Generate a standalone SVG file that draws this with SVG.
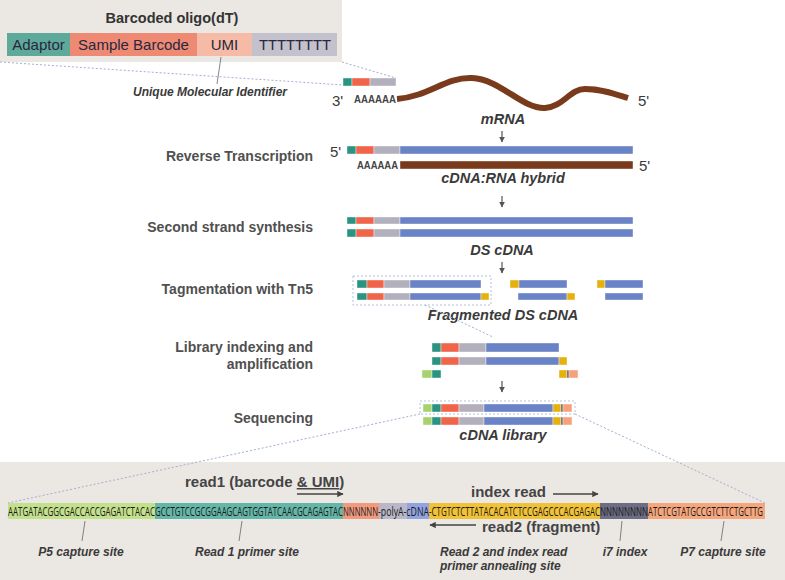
<svg xmlns="http://www.w3.org/2000/svg" width="785" height="580" viewBox="0 0 785 580">
<defs>
<style>
.step{font-family:"Liberation Sans",Arial,sans-serif;font-weight:bold;font-size:14px;fill:#505050;text-anchor:end}
.lab{font-family:"Liberation Sans",Arial,sans-serif;font-weight:bold;font-style:italic;font-size:14.5px;fill:#3a3a3a;text-anchor:middle}
.sm{font-family:"Liberation Sans",Arial,sans-serif;font-weight:bold;font-style:italic;font-size:12px;fill:#3a3a3a}
.pr{font-family:"Liberation Sans",Arial,sans-serif;font-size:15px;fill:#3a3a3a}
.aa{font-family:"Liberation Sans",Arial,sans-serif;font-weight:bold;font-size:11px;fill:#444}
.box{font-family:"Liberation Sans",Arial,sans-serif;font-size:15px;fill:#262840;text-anchor:middle}
.rd{font-family:"Liberation Sans",Arial,sans-serif;font-weight:bold;font-size:15px;fill:#444}
.seq{font-family:"Open Sans","Liberation Sans",sans-serif;font-size:12px;fill:#1a1a1a}
.dash{stroke:#a3aed0;stroke-width:1;stroke-dasharray:2 2;fill:none}
.ptr{stroke:#666;stroke-width:0.8;fill:none}
.tl{fill:#2a9482}.rd1{fill:#f0654a}.gy{fill:#b3b0be}.bl{fill:#6a82c6}.yl{fill:#e6b10c}.lg{fill:#a5d36f}.dk{fill:#5a5a6a}.og{fill:#f5a27c}
.bars rect{stroke:#ffffff;stroke-width:0.4}
.bars rect.dbox{stroke:#a3aed0;stroke-width:0.8;stroke-dasharray:2 2;fill:none}
</style>
<marker id="ah" viewBox="0 0 10 10" refX="9" refY="5" markerWidth="5" markerHeight="5" orient="auto">
<path d="M0,0 L10,5 L0,10 z" fill="#555"/>
</marker>
<marker id="ah2" viewBox="0 0 10 10" refX="9" refY="5" markerWidth="4" markerHeight="4" orient="auto">
<path d="M0,0 L10,5 L0,10 z" fill="#444"/>
</marker>
</defs>
<rect width="785" height="580" fill="#ffffff"/>

<!-- top inset -->
<g id="oligo-box">
<rect x="0" y="0" width="342" height="62" fill="#ebe7e3"/>
<text x="172" y="23" font-family="Liberation Sans, Arial, sans-serif" font-weight="bold" font-size="14.5" fill="#333" text-anchor="middle">Barcoded oligo(dT)</text>
<rect x="7" y="33" width="63" height="23" fill="#5fa99b"/>
<rect x="70" y="33" width="127" height="23" fill="#ee8a74"/>
<rect x="197" y="33" width="55" height="23" fill="#f6bba6"/>
<rect x="252" y="33" width="85" height="23" fill="#c3c1cb"/>
<text class="box" x="38.5" y="50">Adaptor</text>
<text class="box" x="133.5" y="50">Sample Barcode</text>
<text class="box" x="224.5" y="50">UMI</text>
<text class="box" x="295" y="50" textLength="72" lengthAdjust="spacingAndGlyphs">TTTTTTTT</text>
</g>
<g id="umi-label">
<line class="ptr" x1="221" y1="57" x2="217" y2="84"/>
<text class="sm" x="210" y="96" text-anchor="middle">Unique Molecular Identifier</text>
</g>

<!-- steps labels -->
<g id="step-labels">
<text class="step" x="313" y="161">Reverse Transcription</text>
<text class="step" x="313" y="232">Second strand synthesis</text>
<text class="step" x="313" y="294">Tagmentation with Tn5</text>
<text class="step" x="313" y="352">Library indexing and</text>
<text class="step" x="313" y="369">amplification</text>
<text class="step" x="313" y="423">Sequencing</text>
</g>

<!-- mRNA -->
<g id="mrna" class="bars">
<rect class="tl" x="343" y="78" width="9" height="8"/>
<rect class="rd1" x="352" y="78" width="18" height="8"/>
<rect class="gy" x="370" y="78" width="26" height="8"/>
<text class="pr" x="332" y="106">3'</text>
<text class="aa" x="354" y="103" textLength="42" lengthAdjust="spacingAndGlyphs">AAAAAA</text>
<path d="M397,99 C430,96 445,77 472,78 C500,79 522,109 545,108 C563,107 570,89 585,89 C602,89 615,94 628,98" stroke="#7a3a1c" stroke-width="6" fill="none"/>
<text class="pr" x="638" y="106">5'</text>
<text class="lab" x="503" y="124">mRNA</text>
</g>

<!-- RT -->
<g id="rt" class="bars">
<text class="pr" x="330" y="157">5'</text>
<rect class="tl" x="347" y="146" width="9" height="8"/>
<rect class="rd1" x="356" y="146" width="18" height="8"/>
<rect class="gy" x="374" y="146" width="26" height="8"/>
<rect class="bl" x="400" y="146" width="233" height="8"/>
<text class="aa" x="357" y="169" textLength="41" lengthAdjust="spacingAndGlyphs">AAAAAA</text>
<rect x="400" y="161" width="233" height="8" fill="#7a3a1c"/>
<text class="pr" x="639" y="171">5'</text>
<text class="lab" x="503" y="183">cDNA:RNA hybrid</text>
</g>

<!-- second strand -->
<g id="ds" class="bars">
<rect class="tl" x="347" y="217" width="9" height="7"/>
<rect class="rd1" x="356" y="217" width="18" height="7"/>
<rect class="gy" x="374" y="217" width="26" height="7"/>
<rect class="bl" x="400" y="217" width="233" height="7"/>
<rect class="tl" x="347" y="229" width="9" height="8"/>
<rect class="rd1" x="356" y="229" width="18" height="8"/>
<rect class="gy" x="374" y="229" width="26" height="8"/>
<rect class="bl" x="400" y="229" width="233" height="8"/>
<text class="lab" x="502" y="255">DS cDNA</text>
</g>

<!-- tagmentation -->
<g id="tag" class="bars">
<rect class="dbox" x="353" y="276" width="138" height="29"/>
<rect class="tl" x="357" y="280" width="10" height="8"/>
<rect class="rd1" x="367" y="280" width="17" height="8"/>
<rect class="gy" x="384" y="280" width="26" height="8"/>
<rect class="bl" x="410" y="280" width="71" height="8"/>
<rect class="tl" x="357" y="293" width="10" height="7"/>
<rect class="rd1" x="367" y="293" width="17" height="7"/>
<rect class="gy" x="384" y="293" width="26" height="7"/>
<rect class="bl" x="410" y="293" width="71" height="7"/>
<rect class="yl" x="481" y="293" width="8" height="7"/>
<rect class="yl" x="510" y="280" width="9" height="8"/>
<rect class="bl" x="519" y="280" width="48" height="8"/>
<rect class="bl" x="518" y="293" width="49" height="7"/>
<rect class="yl" x="567" y="293" width="8" height="7"/>
<rect class="yl" x="597" y="280" width="8" height="8"/>
<rect class="bl" x="605" y="280" width="38" height="8"/>
<rect class="bl" x="605" y="293" width="38" height="7"/>
<text class="lab" x="503" y="320">Fragmented DS cDNA</text>
</g>

<!-- library indexing -->
<g id="lib" class="bars">
<rect class="tl" x="432" y="343" width="9" height="9"/>
<rect class="rd1" x="441" y="343" width="18" height="9"/>
<rect class="gy" x="459" y="343" width="27" height="9"/>
<rect class="bl" x="486" y="343" width="73" height="9"/>
<rect class="tl" x="432" y="357" width="9" height="8"/>
<rect class="rd1" x="441" y="357" width="18" height="8"/>
<rect class="gy" x="459" y="357" width="27" height="8"/>
<rect class="bl" x="486" y="357" width="73" height="8"/>
<rect class="yl" x="559" y="357" width="8" height="8"/>
<rect class="lg" x="422" y="370" width="10" height="8"/>
<rect class="tl" x="432" y="370" width="9" height="8"/>
<rect class="yl" x="559" y="370" width="8" height="8"/>
<rect class="dk" x="567" y="370" width="2" height="8"/>
<rect class="og" x="569" y="370" width="9" height="8"/>
</g>

<!-- sequencing -->
<g id="seqlib" class="bars">
<rect class="dbox" x="420" y="401" width="155" height="13"/>
<rect class="lg" x="423" y="404" width="9" height="8"/>
<rect class="tl" x="432" y="404" width="9" height="8"/>
<rect class="rd1" x="441" y="404" width="18" height="8"/>
<rect class="gy" x="459" y="404" width="25" height="8"/>
<rect class="bl" x="484" y="404" width="69" height="8"/>
<rect class="yl" x="553" y="404" width="8" height="8"/>
<rect class="dk" x="561" y="404" width="2" height="8"/>
<rect class="og" x="563" y="404" width="9" height="8"/>
<rect class="lg" x="423" y="417" width="9" height="8"/>
<rect class="tl" x="432" y="417" width="9" height="8"/>
<rect class="rd1" x="441" y="417" width="18" height="8"/>
<rect class="gy" x="459" y="417" width="25" height="8"/>
<rect class="bl" x="484" y="417" width="69" height="8"/>
<rect class="yl" x="553" y="417" width="8" height="8"/>
<rect class="dk" x="561" y="417" width="2" height="8"/>
<rect class="og" x="563" y="417" width="9" height="8"/>
<text class="lab" x="503" y="440">cDNA library</text>
</g>

<!-- bottom panel -->
<g id="seq-panel">
<rect x="0" y="462" width="785" height="118" fill="#ebe7e3"/>
<rect x="8" y="503" width="147" height="16" fill="#c3e08a"/>
<rect x="155" y="503" width="188" height="16" fill="#64b6a9"/>
<rect x="343" y="503" width="36" height="16" fill="#f29a7f"/>
<rect x="379" y="503" width="28" height="16" fill="#bab8c8"/>
<rect x="407" y="503" width="22" height="16" fill="#91a3e0"/>
<rect x="429" y="503" width="171" height="16" fill="#f1c136"/>
<rect x="600" y="503" width="48" height="16" fill="#6d6d84"/>
<rect x="648" y="503" width="117" height="16" fill="#f6a67c"/>
<text class="seq" transform="translate(8,515.5) scale(0.66,1)" textLength="222.7" lengthAdjust="spacingAndGlyphs">AATGATACGGCGACCACCGAGATCTACAC</text>
<text class="seq" transform="translate(155,515.5) scale(0.66,1)" textLength="284.8" lengthAdjust="spacingAndGlyphs">GCCTGTCCGCGGAAGCAGTGGTATCAACGCAGAGTAC</text>
<text class="seq" transform="translate(343,515.5) scale(0.66,1)" textLength="53" lengthAdjust="spacingAndGlyphs">NNNNNN</text>
<text class="seq" transform="translate(378,515.5) scale(0.66,1)" textLength="77.3" lengthAdjust="spacingAndGlyphs">-polyA-cDNA</text>
<text class="seq" transform="translate(429,515.5) scale(0.66,1)" textLength="259.1" lengthAdjust="spacingAndGlyphs">-CTGTCTCTTATACACATCTCCGAGCCCACGAGAC</text>
<text class="seq" transform="translate(600,515.5) scale(0.66,1)" textLength="72.7" lengthAdjust="spacingAndGlyphs">NNNNNNNN</text>
<text class="seq" transform="translate(648,515.5) scale(0.66,1)" textLength="174.2" lengthAdjust="spacingAndGlyphs">ATCTCGTATGCCGTCTTCTGCTTG</text>
<text class="rd" x="185" y="487">read1 (barcode <tspan text-decoration="underline">&amp; UMI</tspan>)</text>
<text class="rd" x="471" y="497">index read</text>
<text class="rd" x="482" y="532">read2 (fragment)</text>
<line x1="297" y1="494" x2="343" y2="494" stroke="#444" stroke-width="1.6" marker-end="url(#ah2)"/>
<line x1="553" y1="494" x2="598" y2="494" stroke="#444" stroke-width="1.6" marker-end="url(#ah2)"/>
<line x1="476" y1="525" x2="430" y2="525" stroke="#444" stroke-width="1.6" marker-end="url(#ah2)"/>
<line class="ptr" x1="85" y1="521" x2="82" y2="541"/>
<line class="ptr" x1="242" y1="521" x2="239" y2="541"/>
<line class="ptr" x1="622" y1="521" x2="620" y2="541"/>
<line class="ptr" x1="724" y1="521" x2="721" y2="541"/>
<text class="sm" x="81" y="556" text-anchor="middle">P5 capture site</text>
<text class="sm" x="247" y="556" text-anchor="middle">Read 1 primer site</text>
<text class="sm" x="440" y="556">Read 2 and index read</text>
<text class="sm" x="440" y="570">primer annealing site</text>
<text class="sm" x="625" y="556" text-anchor="middle">i7 index</text>
<text class="sm" x="723" y="556" text-anchor="middle">P7 capture site</text>
</g>

<!-- connectors -->
<g id="connectors">
<line class="dash" x1="0" y1="62" x2="343" y2="85"/>
<line class="dash" x1="342" y1="62" x2="396" y2="78"/>
<line class="dash" x1="425" y1="305" x2="493" y2="337"/>
<line class="dash" x1="420" y1="414" x2="8" y2="503"/>
<line class="dash" x1="575" y1="414" x2="765" y2="503"/>
<line x1="502" y1="131" x2="502" y2="142" stroke="#555" stroke-width="1.2" marker-end="url(#ah)"/>
<line x1="502" y1="196" x2="502" y2="207" stroke="#555" stroke-width="1.2" marker-end="url(#ah)"/>
<line x1="502" y1="262" x2="502" y2="273" stroke="#555" stroke-width="1.2" marker-end="url(#ah)"/>
<line x1="502" y1="381" x2="502" y2="392" stroke="#555" stroke-width="1.2" marker-end="url(#ah)"/>
</g>
</svg>
